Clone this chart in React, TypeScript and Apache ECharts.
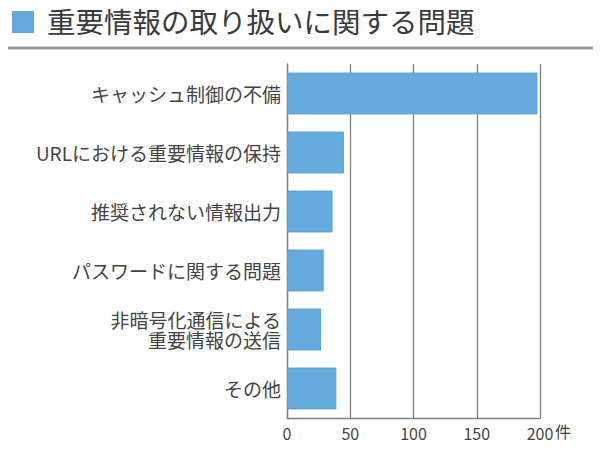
import React, { useEffect, useRef } from "react";
import * as echarts from "echarts";

const titleText = "重要情報の取り扱いに関する問題";
const categories = [
  "キャッシュ制御の不備",
  "URLにおける重要情報の保持",
  "推奨されない情報出力",
  "パスワードに関する問題",
  "非暗号化通信による\n重要情報の送信",
  "その他",
];
const counts = [198, 45, 36, 29, 27, 39];
const unitLabel = "件";
const xMin = 0;
const xMax = 200;
const xInterval = 50;

const FONT = "'Noto Sans CJK JP', 'Noto Sans', sans-serif";

export default function App() {
  const ref = useRef<HTMLDivElement>(null);
  useEffect(() => {
    if (!ref.current) return;
    const chart = echarts.init(ref.current, undefined, { renderer: "svg" });
    chart.setOption({
      animation: false,
      backgroundColor: "#ffffff",
      textStyle: { fontFamily: FONT },
      grid: { left: 287, right: 60, top: 64, bottom: 34, containLabel: false },
      xAxis: {
        type: "value",
        min: xMin,
        max: xMax,
        interval: xInterval,
        axisLine: { show: true, lineStyle: { color: "#7f7f7f", width: 1.3 } },
        axisTick: { show: false },
        splitLine: { show: true, lineStyle: { color: "#7f7f7f", width: 1.3 } },
        axisLabel: { color: "#444444", fontSize: 16, margin: 7, fontFamily: FONT },
      },
      yAxis: {
        type: "category",
        data: categories,
        inverse: true,
        axisLine: { show: true, lineStyle: { color: "#7f7f7f", width: 1.3 } },
        axisTick: { show: false },
        axisLabel: {
          color: "#444444",
          fontSize: 19,
          lineHeight: 20,
          margin: 6,
          fontFamily: FONT,
          align: "right",
        },
      },
      series: [
        {
          type: "bar",
          data: counts,
          barCategoryGap: "29%",
          itemStyle: { color: "#64aadd", borderColor: "#5aa0d8", borderWidth: 1 },
        },
      ],
      graphic: [
        {
          type: "rect",
          left: 12,
          top: 11,
          shape: { width: 22, height: 22 },
          style: { fill: "#64aadd" },
        },
        {
          type: "text",
          left: 47,
          top: 6,
          style: {
            text: titleText,
            fontSize: 28.5,
            fontFamily: FONT,
            fill: "#3a3a3a",
          },
        },
        {
          type: "line",
          shape: { x1: 8, y1: 48, x2: 593, y2: 48 },
          style: { stroke: "#999999", lineWidth: 3 },
        },
        {
          type: "text",
          left: 555,
          top: 423,
          style: { text: unitLabel, fontSize: 16, fontFamily: FONT, fill: "#444444" },
        },
      ],
    });
    return () => chart.dispose();
  }, []);
  return (
    <div
      ref={ref}
      style={{ position: "fixed", left: 0, top: 0, width: 600, height: 452 }}
    />
  );
}
